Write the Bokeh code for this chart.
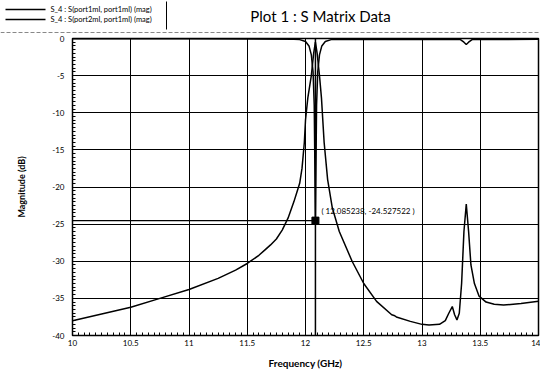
from bokeh.plotting import figure
from bokeh.models import (Label, Span, SingleIntervalTicker, NumeralTickFormatter, Range1d)
from bokeh.core.properties import value
from bokeh.embed import file_html
from bokeh.resources import INLINE

# ---- data ----
s21_freq = [10.0, 10.25, 10.5, 10.75, 11.0, 11.25, 11.4, 11.5, 11.6, 11.65, 11.7, 11.75,
            11.8, 11.85, 11.9, 11.93, 11.95, 11.97, 11.99, 12.0, 12.02, 12.05, 12.07,
            12.085, 12.10, 12.12, 12.137, 12.16, 12.19, 12.23, 12.29, 12.40, 12.50,
            12.61, 12.74, 12.76, 12.78, 12.9, 13.0, 13.06, 13.15, 13.2, 13.23, 13.26,
            13.28, 13.30, 13.32, 13.34, 13.36, 13.38, 13.40, 13.42, 13.45, 13.49,
            13.55, 13.62, 13.70, 13.85, 14.0]
s21_db = [-38.0, -37.1, -36.2, -35.0, -33.8, -32.3, -31.2, -30.3, -29.2, -28.5, -27.8, -27.0,
          -25.8, -24.2, -22.0, -20.5, -19.5, -17.5, -14.0, -11.0, -8.0, -5.0, -2.0,
          -0.5, -2.0, -5.0, -8.0, -14.0, -19.0, -22.8, -26.0, -30.0, -33.0,
          -35.4, -37.2, -37.3, -37.5, -38.1, -38.5, -38.6, -38.5, -38.0, -37.0, -36.1,
          -37.2, -37.9, -37.0, -33.0, -26.0, -22.3, -26.0, -30.5, -33.0, -34.7,
          -35.5, -35.8, -35.9, -35.7, -35.4]

s11_freq = [10.0, 11.0, 11.9, 11.95, 12.0, 12.03, 12.05, 12.065, 12.075, 12.085238,
            12.095, 12.105, 12.12, 12.14, 12.17, 12.22, 13.0, 13.33, 13.36, 13.38,
            13.40, 13.43, 14.0]
s11_db = [-0.05, -0.05, -0.1, -0.15, -0.4, -1.0, -2.2, -4.5, -9.0, -24.527522,
          -9.0, -4.5, -2.2, -1.0, -0.4, -0.15, -0.1, -0.15, -0.5, -0.8,
          -0.5, -0.15, -0.1]

marker_x = 12.085238
marker_y = -24.527522
marker_text = "( 12.085238, -24.527522 )"

legend_labels = ["S_4 : S(port1ml, port1ml) (mag)", "S_4 : S(port2ml, port1ml) (mag)"]
title_text = "Plot 1 : S Matrix Data"
x_label = "Frequency (GHz)"
y_label = "Magnitude (dB)"

FONT = "Lato"

# ---- header strip: legend + title (separate root, so no frame alignment) ----
head = figure(width=540, height=34, output_backend="svg", toolbar_location=None,
              x_range=Range1d(0, 540), y_range=Range1d(34, 0),
              min_border=0, min_border_left=0, min_border_right=0,
              min_border_top=0, min_border_bottom=0,
              x_axis_type=None, y_axis_type=None)
head.outline_line_color = None
head.grid.visible = False
head.background_fill_color = "white"
head.border_fill_color = "white"
row_y = [9, 19]
for i, lab in enumerate(legend_labels):
    head.line([5, 45], [row_y[i], row_y[i]], line_color="black", line_width=1.5)
head.text(x=[50, 50], y=row_y, text=legend_labels, text_font=value(FONT),
          text_font_size="7.5px", text_baseline="middle", text_align="left",
          text_color="black")
head.line([166, 166], [1, 29], line_color="black", line_width=1)
head.line([0, 540], [32, 32], line_color="#888888", line_width=1, line_dash="4 2")
head.text(x=[320], y=[15], text=[title_text], text_font=value(FONT),
          text_font_size="15px", text_baseline="middle", text_align="center",
          text_color="black")

# ---- main plot ----
p = figure(frame_width=466, frame_height=297, output_backend="svg", toolbar_location=None,
           x_range=Range1d(10, 14), y_range=Range1d(-40, 0),
           min_border_left=72, min_border_right=2, min_border_top=4, min_border_bottom=40)
p.background_fill_color = "white"
p.border_fill_color = "white"
p.outline_line_color = "black"
p.outline_line_width = 1.5

p.xaxis.ticker = SingleIntervalTicker(interval=0.5, num_minor_ticks=10)
p.yaxis.ticker = SingleIntervalTicker(interval=5, num_minor_ticks=10)
p.xaxis.formatter = NumeralTickFormatter(format="0.[0]")
p.yaxis.formatter = NumeralTickFormatter(format="0")
for ax in (p.xaxis, p.yaxis):
    ax.axis_line_color = "black"
    ax.major_tick_in = 5
    ax.major_tick_out = 0
    ax.minor_tick_in = 3
    ax.minor_tick_out = 0
    ax.major_label_text_font = FONT
    ax.major_label_text_font_size = "8px"
    ax.major_label_text_color = "black"
    ax.axis_label_text_font = FONT
    ax.axis_label_text_font_style = "bold"
    ax.axis_label_text_color = "black"
p.xaxis.axis_label = x_label
p.yaxis.axis_label = y_label
p.xaxis.axis_label_text_font_size = "10px"
p.yaxis.axis_label_text_font_size = "9px"
p.xaxis.major_label_standoff = 4
p.xaxis.axis_label_standoff = 8
p.yaxis.major_label_standoff = 8
p.yaxis.axis_label_standoff = 22

p.xgrid.grid_line_color = "black"
p.ygrid.grid_line_color = "black"
p.xgrid.grid_line_width = 1
p.ygrid.grid_line_width = 1

p.line(s11_freq, s11_db, line_color="black", line_width=1.5)
p.line(s21_freq, s21_db, line_color="black", line_width=1.5)

# marker lines
p.add_layout(Span(location=marker_x, dimension="height", line_color="black", line_width=1.5))
p.line([10, marker_x], [marker_y, marker_y], line_color="black", line_width=1.2)
p.scatter([marker_x], [marker_y], marker="square", size=7, fill_color="black",
          line_color="black")
p.add_layout(Label(x=marker_x, y=marker_y, text=marker_text, x_offset=6, y_offset=5,
                   text_font=FONT, text_font_size="8px", text_color="black"))

open("out.html", "w").write(file_html([head, p], INLINE))
